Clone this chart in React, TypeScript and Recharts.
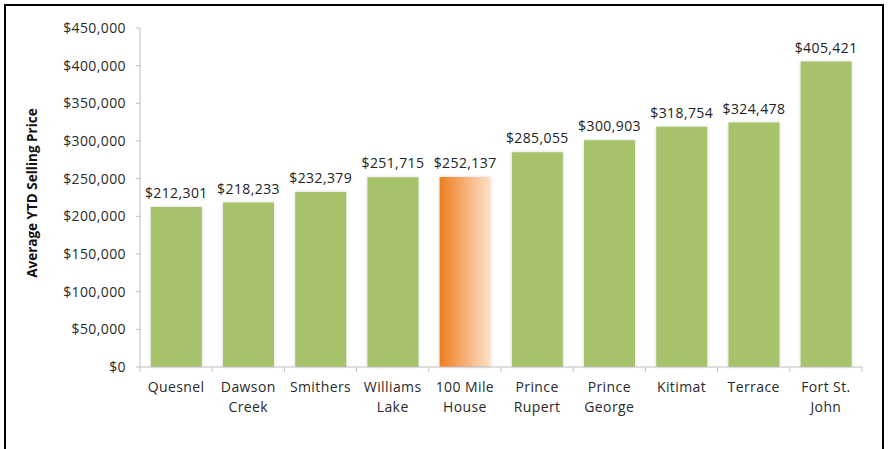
import React from "react";
import { BarChart, Bar, XAxis, YAxis, LabelList, Cell, Label } from "recharts";

const categories = ["Quesnel", "Dawson\nCreek", "Smithers", "Williams\nLake", "100 Mile\nHouse", "Prince\nRupert", "Prince\nGeorge", "Kitimat", "Terrace", "Fort St.\nJohn"];
const prices = [212301, 218233, 232379, 251715, 252137, 285055, 300903, 318754, 324478, 405421];
const highlighted = ["100 Mile\nHouse"];
const yTicks = [0, 50000, 100000, 150000, 200000, 250000, 300000, 350000, 400000, 450000];

const data = categories.map((c, i) => ({ name: c, value: prices[i] }));

const W = 890;
const H = 449;
const M = { top: 28, right: 28, bottom: 0, left: 0 };
const X_H = 82;
const Y_W = 140;
const FONT = "'Open Sans', sans-serif";
const fmt = (v: number) => "$" + v.toLocaleString("en-US");

const XTick = (props: any) => {
  const { x, y, payload, index } = props;
  const band = (W - M.right - Y_W) / categories.length;
  const lines = String(payload.value).split("\n");
  return (
    <g>
      <line x1={x - band / 2} x2={x - band / 2} y1={y} y2={y + 5} stroke="#bfbfbf" />
      {index === categories.length - 1 && (
        <line x1={x + band / 2} x2={x + band / 2} y1={y} y2={y + 5} stroke="#bfbfbf" />
      )}
      <text x={x} y={y + 25} textAnchor="middle" fontSize={14} letterSpacing={0.4} fill="#2a2a2a" fontFamily={FONT}>
        {lines.map((l, i) => (
          <tspan key={i} x={x} dy={i === 0 ? 0 : 20}>{l}</tspan>
        ))}
      </text>
    </g>
  );
};

export default function App() {
  return (
    <div style={{ position: "absolute", left: 0, top: 0, width: W, height: H, background: "#fff", overflow: "hidden" }}>
      <div style={{ position: "absolute", left: 4, top: 4, width: 880, height: 480, border: "2px solid #000", boxSizing: "border-box" }} />
      <div style={{ position: "absolute", left: 0, top: 0 }}>
        <BarChart width={W} height={H} data={data} margin={M} barCategoryGap="15%">
          <defs>
            <linearGradient id="orangeGrad" x1="0" y1="0" x2="1" y2="0">
              <stop offset="0%" stopColor="#ee7d1f" />
              <stop offset="100%" stopColor="#fde2cc" />
            </linearGradient>
            <filter id="shadow" x="-20%" y="-5%" width="140%" height="110%">
              <feDropShadow dx="0" dy="0" stdDeviation="1.5" floodColor="#000" floodOpacity="0.18" />
            </filter>
          </defs>
          <XAxis
            dataKey="name"
            axisLine={{ stroke: "#bfbfbf" }}
            tickLine={false}
            tickSize={0}
            tickMargin={0}
            interval={0}
            tick={<XTick />}
            height={X_H}
          />
          <YAxis
            width={Y_W}
            domain={[0, 450000]}
            ticks={yTicks}
            tickFormatter={fmt}
            axisLine={{ stroke: "#bfbfbf" }}
            tickLine={{ stroke: "#bfbfbf" }}
            tickSize={4}
            tickMargin={10}
            tick={{ fontSize: 14, fill: "#2a2a2a", fontFamily: FONT, letterSpacing: 0.4 }}
          >
            <Label
              value="Average YTD Selling Price"
              content={() => (
                <text x={33} y={193} dy={4} transform="rotate(-90 33 193)" textAnchor="middle" fontSize={13.5} fontWeight="bold" fill="#111" fontFamily={FONT}>
                  Average YTD Selling Price
                </text>
              )}
            />
          </YAxis>
          <Bar dataKey="value" isAnimationActive={false} filter="url(#shadow)">
            {data.map((d, i) => (
              <Cell key={i} fill={highlighted.includes(d.name) ? "url(#orangeGrad)" : "#a6c26a"} />
            ))}
            <LabelList dataKey="value" position="top" offset={9} formatter={(v: any) => fmt(Number(v))} style={{ fontSize: 14, fill: "#222", fontFamily: FONT, letterSpacing: 0.4 }} />
          </Bar>
        </BarChart>
      </div>
    </div>
  );
}
